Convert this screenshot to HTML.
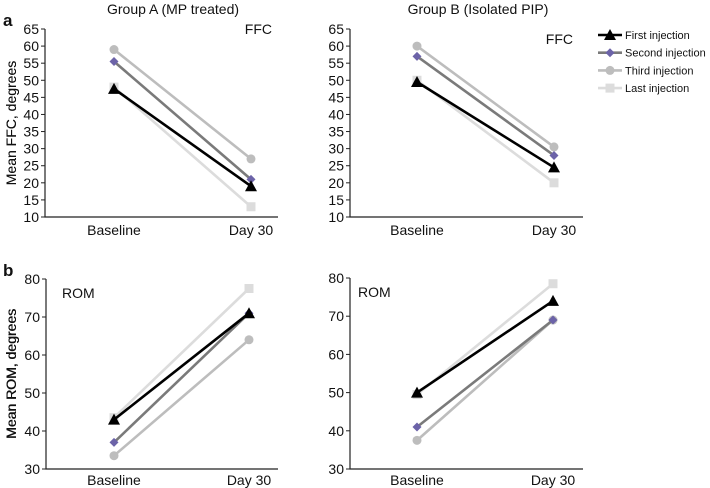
<!DOCTYPE html>
<html><head><meta charset="utf-8"><style>
body{margin:0;background:#fff;}
svg{display:block;font-family:"Liberation Sans",Arial,sans-serif;}
</style></head><body>
<svg id="chart" width="710" height="488" viewBox="0 0 710 488"></svg>
<script>
const categories = ["Baseline", "Day 30"];
const seriesNames = ["First injection", "Second injection", "Third injection", "Last injection"];
const ffcA = [[47.5, 19], [55.5, 21], [59, 27], [48, 13]];
const ffcB = [[49.5, 24.5], [57, 28], [60, 30.5], [50, 20]];
const romA = [[43, 71], [37, 71], [33.5, 64], [43.5, 77.5]];
const romB = [[50, 74], [41, 69], [37.5, 69], [49.5, 78.5]];
const ffcTicks = [10, 15, 20, 25, 30, 35, 40, 45, 50, 55, 60, 65];
const romTicks = [30, 40, 50, 60, 70, 80];

const NS = "http://www.w3.org/2000/svg";
const svg = document.getElementById("chart");
const lineCol = ["#000", "#7a7a7a", "#bdbdbd", "#dcdcdc"];
const markCol = ["#000", "#6c63a8", "#bdbdbd", "#dcdcdc"];
function mk(tag, attrs, parent) {
  const e = document.createElementNS(NS, tag);
  for (const k in attrs) e.setAttribute(k, attrs[k]);
  (parent || svg).appendChild(e);
  return e;
}
function txt(x, y, s, attrs, parent) {
  const t = mk("text", Object.assign({x: x, y: y, "font-size": 14, fill: "#111"}, attrs || {}), parent);
  t.textContent = s;
  return t;
}
function marker(g, i, x, y) {
  let m;
  if (i === 0) m = mk("polygon", {points: `${x},${y-6} ${x-6},${y+5} ${x+6},${y+5}`, fill: markCol[i]}, g);
  else if (i === 1) m = mk("polygon", {points: `${x},${y-4.5} ${x+4.5},${y} ${x},${y+4.5} ${x-4.5},${y}`, fill: markCol[i]}, g);
  else if (i === 2) m = mk("circle", {cx: x, cy: y, r: 4.5, fill: markCol[i]}, g);
  else m = mk("rect", {x: x-4.5, y: y-4.5, width: 9, height: 9, fill: markCol[i]}, g);
  return m;
}
function panel(name, data, ticks, ax, yTop, yBot, xB, xD, xEnd, ytitle, label, labelPos, xlOff) {
  const g = mk("g", {});
  
  
  const vmin = ticks[0], vmax = ticks[ticks.length - 1];
  const Y = v => yBot - (v - vmin) / (vmax - vmin) * (yBot - yTop);
  const X = [xB, xD];
  const axes = mk("path", {d: `M${ax},${yTop} V${yBot} H${xEnd}`, stroke: "#222", "stroke-width": 1.2, fill: "none"}, g);
  
  
  ticks.forEach(t => {
    mk("line", {x1: ax - 4, x2: ax, y1: Y(t), y2: Y(t), stroke: "#222"}, g);
    const tl = txt(ax - 6, Y(t) + 5, String(t), {"text-anchor": "end"}, g);
    
    
  });
  categories.forEach((c, i) => {
    const cl = txt(X[i], yBot + xlOff, c, {"text-anchor": "middle"}, g);
    
    
  });
  const yt = txt(0, 0, ytitle, {"text-anchor": "middle", transform: `translate(16,${(yTop + yBot) / 2}) rotate(-90)`}, g);
  
  
  const lb = txt(labelPos[0], labelPos[1], label, {"text-anchor": labelPos[2], "font-size": 14}, g);
  
  
  [3, 2, 1, 0].forEach(i => {
    const d = data[i];
    const ln = mk("line", {x1: X[0], y1: Y(d[0]), x2: X[1], y2: Y(d[1]), stroke: lineCol[i], "stroke-width": 2.6}, g);
    
    
    d.forEach((v, j) => {
      const m = marker(g, i, X[j], Y(v));
      
      
    });
  });
}
panel("panel-a-group-a-ffc", ffcA, ffcTicks, 45, 29, 217, 114, 251, 278, "Mean FFC, degrees", "FFC", [272, 34, "end"], 18);
panel("panel-a-group-b-ffc", ffcB, ffcTicks, 350, 29, 217, 417, 554, 583, "Mean FFC, degrees", "FFC", [573, 44, "end"], 18);
panel("panel-b-group-a-rom", romA, romTicks, 46, 279, 469, 114, 249, 278, "Mean ROM, degrees", "ROM", [62, 298, "start"], 16);
panel("panel-b-group-b-rom", romB, romTicks, 350, 278, 469, 417, 553, 583, "Mean ROM, degrees", "ROM", [358, 297, "start"], 16);

const t1 = txt(173, 14, "Group A (MP treated)", {"text-anchor": "middle"});


const t2 = txt(478, 14, "Group B (Isolated PIP)", {"text-anchor": "middle"});


const pa = txt(3, 26, "a", {"font-size": 17, "font-weight": "bold"});


const pb = txt(3, 276, "b", {"font-size": 17, "font-weight": "bold"});



const legendX = [598, 622];
seriesNames.forEach((s, i) => {
  const y = 35 + i * 17.7;
  const g = mk("g", {});
  
  
  mk("line", {x1: legendX[0], x2: legendX[1], y1: y, y2: y, stroke: lineCol[i], "stroke-width": 2.6}, g);
  marker(g, i, 610, y);
  txt(625, y + 4, s, {"font-size": 11}, g);
});
</script>
</body></html>
